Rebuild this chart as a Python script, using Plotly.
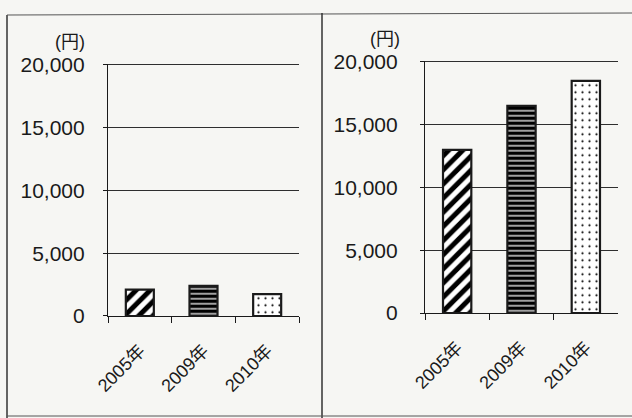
import plotly.graph_objects as go

# Data
years = ["2005年", "2009年", "2010年"]
left_values = [2100, 2400, 1750]
right_values = [13000, 16500, 18500]
y_ticks = [0, 5000, 10000, 15000, 20000]
y_tick_labels = ["0", "5,000", "10,000", "15,000", "20,000"]
unit_label = "(円)"

W, H = 632, 418
FONT = "Liberation Sans, Arial, Noto Sans CJK JP, sans-serif"
INK = "#1a1a1a"
PAPER = "#f6f6f3"
Y_TOP = 20100  # a little headroom so the 20,000 gridline is drawn

patterns = [
    dict(shape="/", size=10, solidity=0.5, fgcolor="#000000", bgcolor="white", fgopacity=1),
    dict(shape="-", size=5, solidity=0.75, fgcolor="#000000", bgcolor="white", fgopacity=1),
    dict(shape=".", size=7, solidity=0.08, fgcolor="#000000", bgcolor="white", fgopacity=1),
]


def px_x(x):
    return x / W


def px_y(y):
    return 1 - y / H


def y_domain(zero_px, top_px):
    # extend the domain so that 20,000 sits on top_px
    per_unit = (zero_px - top_px) / 20000
    return [px_y(zero_px), px_y(zero_px - per_unit * Y_TOP)]


fig = go.Figure()

for idx, vals in enumerate([left_values, right_values]):
    suffix = "" if idx == 0 else "2"
    for i, (yr, v) in enumerate(zip(years, vals)):
        fig.add_trace(go.Bar(
            x=[yr], y=[v],
            xaxis="x" + suffix, yaxis="y" + suffix,
            width=0.44,
            marker=dict(color="white", pattern=patterns[i],
                        line=dict(color=INK, width=2.2)),
            showlegend=False,
            hoverinfo="x+y",
        ))

xaxis_common = dict(
    type="category",
    categoryorder="array", categoryarray=years,
    showline=True, linecolor=INK, linewidth=1.2,
    ticks="outside", tickson="boundaries", ticklen=6, tickcolor=INK,
    tickwidth=1.2,
    tickangle=-45,
    tickfont=dict(family=FONT, size=18, color=INK),
    ticklabelstandoff=16,
    showgrid=False, zeroline=False,
    automargin=False,
)
yaxis_common = dict(
    range=[0, Y_TOP],
    tickvals=y_ticks, ticktext=y_tick_labels,
    showline=True, linecolor=INK, linewidth=1.2,
    ticks="outside", ticklen=4, tickcolor=INK,
    showgrid=True, gridcolor="#2e2e2e", gridwidth=1.1,
    zeroline=False,
    tickfont=dict(family=FONT, size=21, color=INK),
    ticklabelstandoff=14,
    automargin=False,
)

fig.update_layout(
    width=W, height=H,
    margin=dict(l=0, r=0, t=0, b=0, pad=0, autoexpand=False),
    paper_bgcolor=PAPER,
    plot_bgcolor=PAPER,
    xaxis=dict(xaxis_common, domain=[px_x(108), px_x(299)], anchor="y"),
    yaxis=dict(yaxis_common, domain=y_domain(316, 65), anchor="x"),
    xaxis2=dict(xaxis_common, domain=[px_x(425), px_x(618)], anchor="y2"),
    yaxis2=dict(yaxis_common, domain=y_domain(313, 62), anchor="x2",
                ticklabelstandoff=18),
)

# Unit labels above each value axis
for xr, yt in [(87, 42), (402, 39)]:
    fig.add_annotation(
        x=px_x(xr), y=px_y(yt), xref="paper", yref="paper",
        xanchor="right", yanchor="middle",
        text=unit_label, showarrow=False,
        font=dict(family=FONT, size=18, color=INK),
    )

# Panel frames
frame = dict(color="#333333", width=1.5)
fig.add_shape(type="line", xref="paper", yref="paper",
              x0=px_x(7), x1=px_x(7), y0=px_y(15), y1=px_y(418), line=frame)
fig.add_shape(type="line", xref="paper", yref="paper",
              x0=px_x(7), x1=1, y0=px_y(15), y1=px_y(13), line=dict(color="#555555", width=1))
fig.add_shape(type="line", xref="paper", yref="paper",
              x0=px_x(322), x1=px_x(322), y0=px_y(13), y1=px_y(418), line=frame)
fig.add_shape(type="line", xref="paper", yref="paper",
              x0=px_x(7), x1=1, y0=px_y(416), y1=px_y(416), line=dict(color="#555555", width=1))

fig.write_html("out.html")
